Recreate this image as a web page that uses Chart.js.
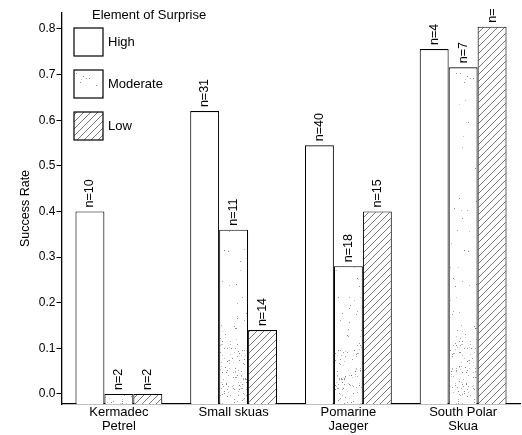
<!DOCTYPE html>
<html>
<head>
<meta charset="utf-8">
<script src="https://cdn.jsdelivr.net/npm/chart.js@4/dist/chart.umd.min.js"></script>
<style>
html, body { margin: 0; padding: 0; background: #fff; }
</style>
</head>
<body>
<canvas id="surprise_chart" width="522" height="435"></canvas>
<script>
// data
const categories = [['Kermadec', 'Petrel'], 'Small skuas', ['Pomarine', 'Jaeger'], ['South Polar', 'Skua']];
const highRate = [0.40, 0.62, 0.545, 0.756];
const moderateRate = [0.0, 0.36, 0.28, 0.716];
const lowRate = [0.0, 0.14, 0.40, 0.805];
const highN = [10, 31, 40, 4];
const moderateN = [2, 11, 18, 7];
const lowN = [2, 14, 15, null]; // cut off at the top of the figure
const seriesNames = ['High', 'Moderate', 'Low'];
const legendTitle = 'Element of Surprise';
const yTitle = 'Success Rate';

const FONT = "'Liberation Sans', Arial, Helvetica, sans-serif";
Chart.defaults.font.family = FONT;
Chart.defaults.color = '#000';

// diagonal hatching for "Low"
function makeHatch() {
    let c = document.createElement('canvas');
    c.width = 7; c.height = 7;
    let g = c.getContext('2d');
    g.fillStyle = '#fff';
    g.fillRect(0, 0, 7, 7);
    g.strokeStyle = '#555';
    g.lineWidth = 0.8;
    g.beginPath();
    g.moveTo(-1, 8); g.lineTo(8, -1);
    g.moveTo(-1, 1); g.lineTo(1, -1);
    g.moveTo(6, 8); g.lineTo(8, 6);
    g.stroke();
    return g.createPattern(c, 'repeat');
}

// stippling for "Moderate", a bit denser toward the bottom
function hash(x, y) {
    let h = Math.imul(x, 374761393) + Math.imul(y, 668265263) | 0;
    h = Math.imul(h ^ (h >>> 13), 1274126177);
    return ((h ^ (h >>> 16)) >>> 0) / 4294967296;
}
function makeStipple() {
    let w = 48, hgt = 435;
    let c = document.createElement('canvas');
    c.width = w; c.height = hgt;
    let g = c.getContext('2d');
    g.fillStyle = '#fff';
    g.fillRect(0, 0, w, hgt);
    for (let y = 0; y < hgt; y++) {
        let t = Math.max(0, (y - 230) / 175);
        let p = 0.004 + 0.07 * t * t;
        for (let x = 0; x < w; x++) {
            if (hash(x, y) < p) {
                let v = 120 + Math.floor(hash(y, x) * 90);
                g.fillStyle = 'rgb(' + v + ',' + v + ',' + v + ')';
                g.fillRect(x, y, 1, 1);
            }
        }
    }
    return g.createPattern(c, 'repeat');
}

const fills = ['#fff', makeStipple(), makeHatch()];
const counts = [highN, moderateN, lowN];
const yMin = -0.022, yMax = 0.835;

// "n=.." labels above the bars
const countLabels = {
    id: 'countLabels',
    afterDatasetsDraw(chart) {
        const ctx = chart.ctx;
        ctx.save();
        ctx.font = '12.5px ' + FONT;
        ctx.fillStyle = '#000';
        ctx.textAlign = 'left';
        ctx.textBaseline = 'middle';
        chart.data.datasets.forEach((ds, i) => {
            chart.getDatasetMeta(i).data.forEach((bar, j) => {
                let n = counts[i][j];
                let txt = n === null ? 'n=' : 'n=' + n;
                ctx.save();
                ctx.translate(bar.x, bar.y - 4);
                ctx.rotate(-Math.PI / 2);
                ctx.fillText(txt, 0, 0);
                ctx.restore();
            });
        });
        ctx.restore();
    }
};

// legend drawn inside the plot, top left
const boxLegend = {
    id: 'boxLegend',
    afterDraw(chart) {
        const ctx = chart.ctx;
        ctx.save();
        ctx.font = '13px ' + FONT;
        ctx.fillStyle = '#000';
        ctx.textBaseline = 'middle';
        ctx.textAlign = 'left';
        ctx.fillText(legendTitle, 92, 15);
        chart.data.datasets.forEach((ds, i) => {
            let top = 28 + i * 42;
            ctx.fillStyle = ds.backgroundColor;
            ctx.fillRect(74, top, 29, 28);
            ctx.strokeStyle = '#000';
            ctx.lineWidth = 1.2;
            ctx.strokeRect(74, top, 29, 28);
            ctx.fillStyle = '#000';
            ctx.fillText(ds.label, 108, top + 14);
        });
        ctx.restore();
    }
};

new Chart(document.getElementById('surprise_chart'), {
    type: 'bar',
    data: {
        labels: categories,
        datasets: [highRate, moderateRate, lowRate].map((vals, i) => ({
            label: seriesNames[i],
            data: vals,
            base: yMin,
            backgroundColor: fills[i],
            borderColor: '#000',
            borderWidth: 1.1,
            borderSkipped: 'bottom',
            barPercentage: 1.0,
            categoryPercentage: 0.757
        }))
    },
    options: {
        responsive: false,
        animation: false,
        devicePixelRatio: 1,
        layout: { padding: { top: 13, right: 1.5, left: 0, bottom: 0 } },
        plugins: {
            legend: { display: false },
            tooltip: { enabled: false }
        },
        scales: {
            x: {
                grid: { display: false, drawTicks: false },
                border: { display: true, color: '#000', width: 1.3 },
                ticks: {
                    padding: 2,
                    maxRotation: 0,
                    font: { size: 13, lineHeight: 1.05 }
                },
                afterFit: s => { s.height = 31; }
            },
            y: {
                min: yMin,
                max: yMax,
                border: { display: true, color: '#000', width: 1.3 },
                grid: { drawOnChartArea: false, drawTicks: true, tickLength: 5, color: '#000', lineWidth: 1 },
                ticks: {
                    stepSize: 0.1,
                    includeBounds: false,
                    padding: 1,
                    font: { size: 12 },
                    callback: v => v.toFixed(1)
                },
                title: {
                    display: true,
                    text: yTitle,
                    font: { size: 12.5 },
                    padding: { top: 18, bottom: 0 }
                },
                afterFit: s => { s.width = 61.5; }
            }
        }
    },
    plugins: [countLabels, boxLegend]
});
</script>
</body>
</html>
